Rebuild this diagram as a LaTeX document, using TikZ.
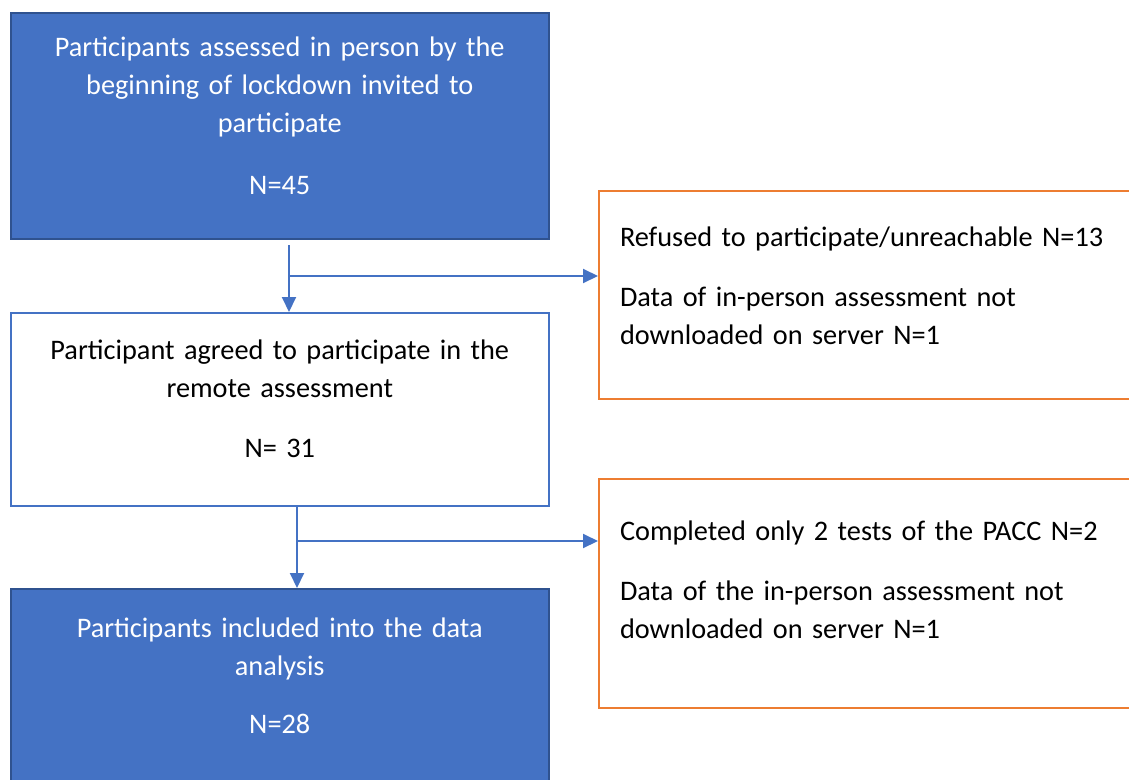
\documentclass[tikz,border=0pt]{standalone}
\usepackage{fontspec}
\setmainfont{Carlito}
\usetikzlibrary{arrows.meta}
\definecolor{boxblue}{HTML}{4472C4}
\definecolor{edgeblue}{HTML}{2F528F}
\definecolor{boxorange}{HTML}{ED7D31}
\newcommand{\liftby}[1]{\par\vspace*{#1}\hrule height 0pt width 0pt}
\tikzset{
  mainbox/.style={draw=edgeblue, fill=boxblue, text=white, line width=1.5pt, anchor=north west,
    minimum width=538pt, text width=520pt, align=center, inner sep=0pt},
  whitebox/.style={draw=boxblue, fill=white, line width=1.5pt, anchor=north west,
    minimum width=538pt, text width=520pt, align=center, inner sep=0pt},
  sidebox/.style={draw=boxorange, fill=white, line width=2pt, anchor=north west,
    minimum width=560pt, text width=518pt, align=left, inner xsep=21pt, inner ysep=0pt},
  flow/.style={draw=boxblue, line width=2pt, -{Triangle[length=15pt,width=14pt]}}
}
\begin{document}
\begin{tikzpicture}[x=1pt,y=-1pt,font=\fontsize{28.3}{38}\selectfont]
    \useasboundingbox (0,0) rectangle (1129,779);
    \clip (0,0) rectangle (1129,779);
    % main boxes
    \node[mainbox, minimum height=226pt] (invited) at (10,12)
        {Participants assessed in person by the\\beginning of lockdown invited to\\participate\\[24pt]N=45\liftby{20pt}};
    \node[whitebox, minimum height=193pt] (agreed) at (10,312)
        {Participant agreed to participate in the\\remote assessment\\[22pt]N= 31\liftby{20pt}};
    \node[mainbox, minimum height=215pt] (included) at (10,588)
        {Participants included into the data\\analysis\\[20pt]N=28\liftby{40pt}};
    % excluded boxes
    \node[sidebox, minimum height=208pt] (refused) at (598,190)
        {Refused to participate/unreachable N=13\\[22pt]Data of in-person assessment not\\downloaded on server N=1\liftby{18pt}};
    \node[sidebox, minimum height=229pt] (partial) at (598,478)
        {Completed only 2 tests of the PACC N=2\\[22pt]Data of the in-person assessment not\\downloaded on server N=1\liftby{28pt}};
    % connectors
    \coordinate (s1) at (289,245);
    \coordinate (j1) at (289,276);
    \draw[flow] (s1) -- (s1 |- agreed.north);
    \draw[flow] (j1) -- (j1 -| refused.west);
    \coordinate (s2) at (297,505);
    \coordinate (j2) at (297,541);
    \draw[flow] (s2) -- (s2 |- included.north);
    \draw[flow] (j2) -- (j2 -| partial.west);
\end{tikzpicture}
\end{document}
